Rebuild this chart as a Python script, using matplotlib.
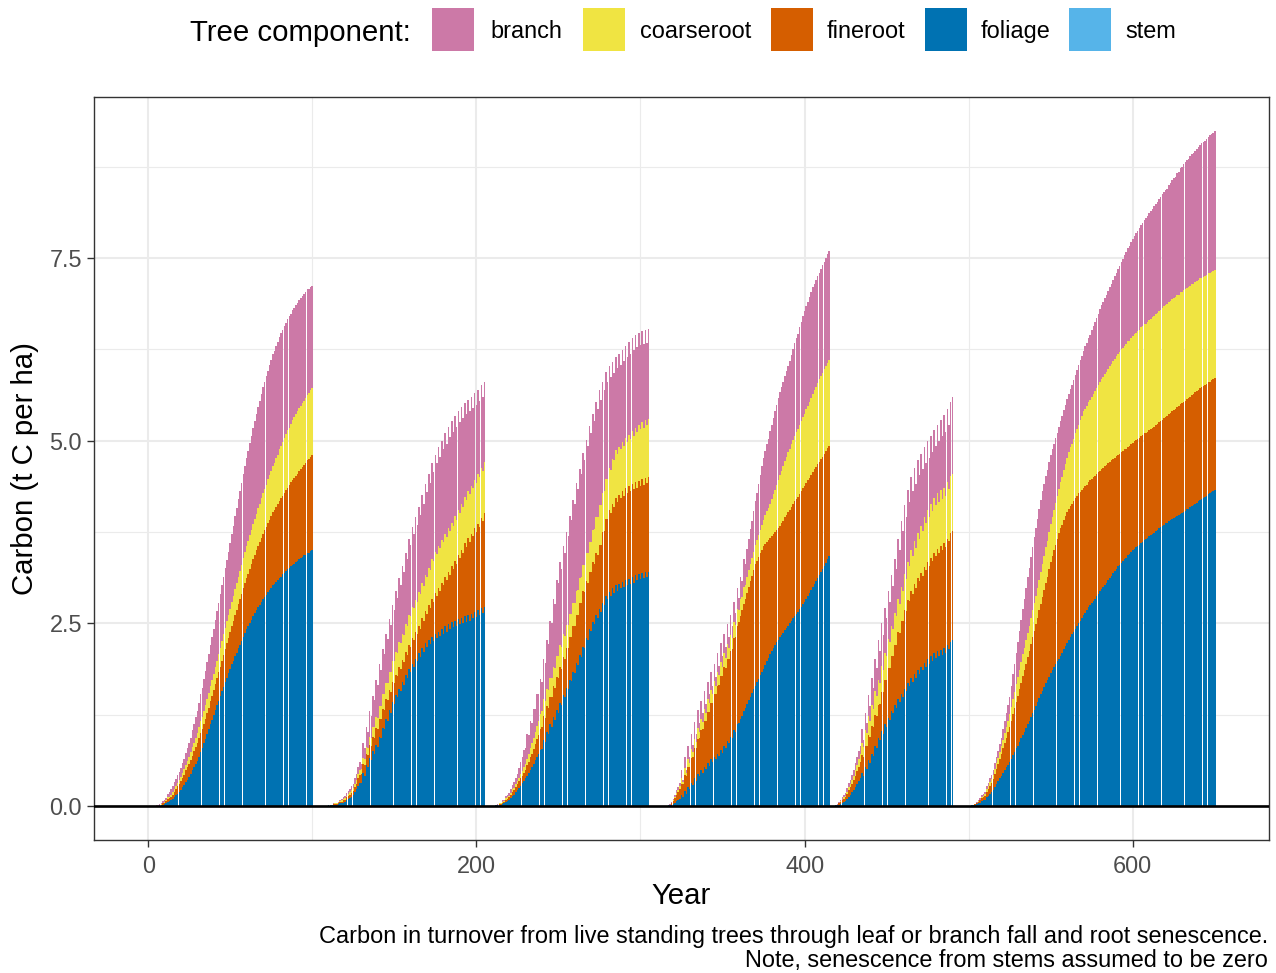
import numpy as np
import matplotlib
matplotlib.use("Agg")
import matplotlib.pyplot as plt
from matplotlib.patches import Rectangle
from matplotlib.ticker import MultipleLocator, FormatStrFormatter

plt.rcParams["font.family"] = ["Liberation Sans", "DejaVu Sans"]

# ---------------------------------------------------------------------------
# Annual litter carbon (t C per ha) from live trees, by component, per rotation
# ---------------------------------------------------------------------------
components = ["branch", "coarseroot", "fineroot", "foliage", "stem"]
colours = ["#CC79A7", "#F0E442", "#D55E00", "#0072B2", "#56B4E9"]

# Rotation 1: years 5-100
r1_start = 5
r1_foliage = [0.00, 0.00, 0.01, 0.01, 0.02, 0.03, 0.04, 0.06, 0.07, 0.08,
              0.10, 0.12, 0.15, 0.17, 0.20, 0.22, 0.26, 0.29, 0.33, 0.36,
              0.40, 0.44, 0.49, 0.53, 0.58, 0.62, 0.68, 0.74, 0.80, 0.86,
              0.92, 0.99, 1.05, 1.12, 1.18, 1.25, 1.31, 1.38, 1.44, 1.51,
              1.57, 1.63, 1.70, 1.76, 1.82, 1.88, 1.94, 1.99, 2.05, 2.10,
              2.16, 2.21, 2.26, 2.32, 2.37, 2.42, 2.46, 2.51, 2.55, 2.60,
              2.64, 2.68, 2.72, 2.75, 2.79, 2.83, 2.86, 2.89, 2.93, 2.96,
              2.99, 3.02, 3.04, 3.07, 3.09, 3.12, 3.14, 3.17, 3.19, 3.22,
              3.24, 3.26, 3.28, 3.30, 3.32, 3.34, 3.36, 3.38, 3.39, 3.41,
              3.43, 3.44, 3.46, 3.47, 3.49, 3.50]
r1_fineroot = [0.00, 0.00, 0.01, 0.01, 0.02, 0.02, 0.03, 0.04, 0.04, 0.05,
               0.06, 0.07, 0.08, 0.10, 0.11, 0.12, 0.13, 0.14, 0.16, 0.17,
               0.18, 0.19, 0.20, 0.22, 0.23, 0.24, 0.25, 0.26, 0.26, 0.27,
               0.28, 0.29, 0.30, 0.32, 0.33, 0.34, 0.36, 0.37, 0.39, 0.40,
               0.42, 0.44, 0.45, 0.47, 0.48, 0.50, 0.52, 0.54, 0.56, 0.58,
               0.60, 0.62, 0.64, 0.66, 0.68, 0.70, 0.72, 0.74, 0.76, 0.78,
               0.80, 0.82, 0.84, 0.86, 0.88, 0.90, 0.92, 0.93, 0.95, 0.96,
               0.98, 1.00, 1.01, 1.03, 1.04, 1.06, 1.07, 1.08, 1.10, 1.11,
               1.12, 1.13, 1.15, 1.16, 1.17, 1.18, 1.19, 1.21, 1.22, 1.23,
               1.24, 1.25, 1.27, 1.28, 1.29, 1.30]
r1_coarseroot = [0.00, 0.00, 0.00, 0.01, 0.01, 0.01, 0.01, 0.02, 0.02, 0.03,
                 0.03, 0.04, 0.04, 0.05, 0.05, 0.06, 0.07, 0.08, 0.08, 0.09,
                 0.10, 0.11, 0.12, 0.12, 0.13, 0.14, 0.15, 0.16, 0.16, 0.17,
                 0.18, 0.19, 0.20, 0.20, 0.21, 0.22, 0.23, 0.24, 0.25, 0.26,
                 0.27, 0.28, 0.29, 0.30, 0.31, 0.32, 0.33, 0.34, 0.36, 0.37,
                 0.38, 0.39, 0.40, 0.42, 0.43, 0.44, 0.45, 0.46, 0.47, 0.48,
                 0.49, 0.50, 0.52, 0.53, 0.54, 0.55, 0.56, 0.58, 0.59, 0.61,
                 0.62, 0.64, 0.65, 0.67, 0.68, 0.70, 0.72, 0.73, 0.75, 0.76,
                 0.78, 0.79, 0.80, 0.82, 0.83, 0.84, 0.85, 0.86, 0.86, 0.87,
                 0.88, 0.89, 0.90, 0.90, 0.91, 0.92]
r1_branch = [0.01, 0.01, 0.01, 0.02, 0.02, 0.02, 0.03, 0.05, 0.06, 0.08,
             0.09, 0.10, 0.10, 0.11, 0.11, 0.12, 0.13, 0.14, 0.16, 0.17,
             0.18, 0.20, 0.23, 0.25, 0.28, 0.30, 0.33, 0.37, 0.40, 0.44,
             0.47, 0.50, 0.53, 0.56, 0.59, 0.62, 0.65, 0.68, 0.70, 0.73,
             0.76, 0.79, 0.82, 0.84, 0.87, 0.90, 0.93, 0.96, 1.00, 1.03,
             1.06, 1.09, 1.12, 1.14, 1.17, 1.20, 1.23, 1.26, 1.28, 1.31,
             1.34, 1.36, 1.38, 1.41, 1.43, 1.45, 1.46, 1.48, 1.49, 1.51,
             1.52, 1.52, 1.53, 1.53, 1.54, 1.54, 1.54, 1.53, 1.53, 1.52,
             1.52, 1.52, 1.51, 1.51, 1.50, 1.50, 1.49, 1.48, 1.48, 1.47,
             1.46, 1.45, 1.44, 1.42, 1.41, 1.40]

# Rotation 2: years 110-205
r2_start = 110
r2_foliage = [0.01, 0.01, 0.01, 0.02, 0.02, 0.02, 0.03, 0.04, 0.04, 0.05,
              0.06, 0.08, 0.10, 0.11, 0.13, 0.15, 0.19, 0.23, 0.28, 0.32,
              0.32, 0.45, 0.42, 0.56, 0.53, 0.66, 0.63, 0.75, 0.72, 0.84,
              0.81, 0.95, 0.93, 1.07, 1.05, 1.19, 1.17, 1.31, 1.28, 1.42,
              1.40, 1.52, 1.49, 1.61, 1.58, 1.70, 1.66, 1.79, 1.75, 1.88,
              1.84, 1.95, 1.91, 2.02, 1.98, 2.09, 2.04, 2.16, 2.11, 2.23,
              2.18, 2.28, 2.22, 2.32, 2.26, 2.36, 2.30, 2.39, 2.33, 2.42,
              2.36, 2.46, 2.39, 2.49, 2.42, 2.52, 2.45, 2.54, 2.47, 2.56,
              2.49, 2.58, 2.51, 2.60, 2.52, 2.61, 2.54, 2.63, 2.57, 2.66,
              2.59, 2.68, 2.61, 2.71, 2.64, 2.73]
r2_fineroot = [0.00, 0.00, 0.00, 0.01, 0.01, 0.01, 0.01, 0.02, 0.02, 0.03,
               0.03, 0.04, 0.04, 0.05, 0.05, 0.06, 0.07, 0.08, 0.10, 0.11,
               0.12, 0.13, 0.14, 0.16, 0.17, 0.18, 0.19, 0.20, 0.22, 0.23,
               0.24, 0.25, 0.26, 0.26, 0.27, 0.28, 0.28, 0.28, 0.28, 0.28,
               0.28, 0.28, 0.29, 0.29, 0.30, 0.30, 0.31, 0.32, 0.32, 0.33,
               0.34, 0.35, 0.36, 0.36, 0.37, 0.38, 0.39, 0.41, 0.42, 0.44,
               0.45, 0.47, 0.49, 0.52, 0.54, 0.56, 0.58, 0.60, 0.62, 0.64,
               0.66, 0.68, 0.70, 0.72, 0.74, 0.76, 0.79, 0.82, 0.84, 0.87,
               0.90, 0.93, 0.96, 1.00, 1.03, 1.06, 1.08, 1.10, 1.12, 1.14,
               1.16, 1.18, 1.21, 1.23, 1.26, 1.28]
r2_coarseroot = [0.00, 0.00, 0.00, 0.00, 0.01, 0.01, 0.01, 0.01, 0.02, 0.02,
                 0.02, 0.02, 0.03, 0.03, 0.04, 0.04, 0.05, 0.05, 0.06, 0.06,
                 0.07, 0.08, 0.09, 0.09, 0.10, 0.11, 0.12, 0.13, 0.14, 0.15,
                 0.16, 0.17, 0.18, 0.20, 0.21, 0.22, 0.24, 0.25, 0.27, 0.28,
                 0.30, 0.31, 0.32, 0.34, 0.35, 0.36, 0.37, 0.38, 0.40, 0.41,
                 0.42, 0.43, 0.44, 0.44, 0.45, 0.46, 0.47, 0.48, 0.48, 0.49,
                 0.50, 0.51, 0.52, 0.54, 0.55, 0.56, 0.57, 0.57, 0.58, 0.58,
                 0.59, 0.59, 0.59, 0.60, 0.60, 0.60, 0.60, 0.61, 0.61, 0.62,
                 0.62, 0.62, 0.63, 0.63, 0.64, 0.64, 0.65, 0.65, 0.66, 0.66,
                 0.67, 0.68, 0.68, 0.69, 0.69, 0.70]
r2_branch = [0.00, 0.00, 0.00, 0.01, 0.01, 0.01, 0.01, 0.02, 0.02, 0.03,
             0.03, 0.04, 0.04, 0.05, 0.05, 0.06, 0.07, 0.08, 0.10, 0.11,
             0.07, 0.21, 0.14, 0.28, 0.21, 0.35, 0.29, 0.43, 0.37, 0.51,
             0.45, 0.57, 0.50, 0.62, 0.55, 0.67, 0.60, 0.72, 0.65, 0.77,
             0.70, 0.83, 0.75, 0.88, 0.80, 0.93, 0.86, 0.98, 0.91, 1.04,
             0.97, 1.09, 1.01, 1.13, 1.05, 1.17, 1.09, 1.21, 1.13, 1.25,
             1.17, 1.28, 1.19, 1.31, 1.22, 1.33, 1.24, 1.35, 1.25, 1.36,
             1.27, 1.37, 1.28, 1.38, 1.29, 1.39, 1.28, 1.37, 1.27, 1.36,
             1.25, 1.33, 1.21, 1.29, 1.17, 1.25, 1.13, 1.22, 1.10, 1.19,
             1.07, 1.16, 1.04, 1.13, 1.01, 1.10]

# Rotation 3: years 211-305
r3_start = 211
r3_foliage = [0.00, 0.01, 0.01, 0.02,
              0.02, 0.03, 0.04, 0.06, 0.07, 0.08, 0.11, 0.14, 0.16, 0.19,
              0.22, 0.25, 0.28, 0.32, 0.35, 0.38, 0.42, 0.46, 0.50, 0.54,
              0.58, 0.63, 0.68, 0.72, 0.77,
              0.78, 0.91, 0.88, 1.02, 0.99, 1.12, 1.09, 1.22, 1.18, 1.31,
              1.28, 1.41, 1.38, 1.52, 1.49, 1.62, 1.60, 1.73, 1.71, 1.84,
              1.82, 1.96, 1.93, 2.07, 2.04, 2.18, 2.16, 2.30, 2.28, 2.42,
              2.40, 2.52, 2.49, 2.61, 2.58, 2.70, 2.66, 2.78, 2.75, 2.87,
              2.83, 2.93, 2.87, 2.98, 2.92, 3.02, 2.95, 3.04, 2.98, 3.07,
              3.00, 3.09, 3.02, 3.11, 3.04, 3.13, 3.06, 3.16, 3.09, 3.18,
              3.11, 3.19, 3.12, 3.20, 3.13, 3.21]
r3_fineroot = [0.00, 0.00, 0.01, 0.01,
               0.01, 0.02, 0.02, 0.03, 0.03, 0.04, 0.05, 0.06, 0.06, 0.07,
               0.08, 0.09, 0.10, 0.10, 0.11, 0.12, 0.14, 0.15, 0.17, 0.18,
               0.20, 0.22, 0.24, 0.26, 0.28, 0.30, 0.32, 0.33, 0.35, 0.36,
               0.38, 0.40, 0.42, 0.44, 0.46, 0.48, 0.49, 0.50, 0.52, 0.53,
               0.54, 0.56, 0.58, 0.60, 0.62, 0.64, 0.66, 0.69, 0.71, 0.74,
               0.76, 0.77, 0.78, 0.78, 0.79, 0.80, 0.82, 0.83, 0.85, 0.86,
               0.88, 0.92, 0.97, 1.01, 1.06, 1.10, 1.12, 1.14, 1.16, 1.18,
               1.20, 1.21, 1.22, 1.23, 1.24, 1.25, 1.26, 1.26, 1.27, 1.27,
               1.28, 1.28, 1.28, 1.27, 1.27, 1.27, 1.28, 1.28, 1.29, 1.29,
               1.30]
r3_coarseroot = [0.00, 0.00, 0.00, 0.01,
                 0.01, 0.01, 0.01, 0.02, 0.02, 0.02, 0.02, 0.03, 0.03, 0.04,
                 0.04, 0.05, 0.06, 0.06, 0.07, 0.08, 0.09, 0.11, 0.12, 0.14,
                 0.15, 0.16, 0.18, 0.19, 0.21, 0.22, 0.23, 0.23, 0.24, 0.24,
                 0.25, 0.26, 0.27, 0.27, 0.28, 0.29, 0.30, 0.30, 0.31, 0.31,
                 0.32, 0.32, 0.32, 0.32, 0.32, 0.32, 0.33, 0.34, 0.34, 0.35,
                 0.36, 0.37, 0.38, 0.40, 0.41, 0.42, 0.44, 0.47, 0.49, 0.52,
                 0.54, 0.54, 0.54, 0.55, 0.55, 0.55, 0.57, 0.59, 0.61, 0.63,
                 0.65, 0.66, 0.66, 0.67, 0.67, 0.68, 0.69, 0.70, 0.70, 0.71,
                 0.72, 0.73, 0.74, 0.76, 0.77, 0.78, 0.78, 0.78, 0.79, 0.79,
                 0.79]
r3_branch = [0.00, 0.00, 0.01, 0.01,
             0.01, 0.02, 0.02, 0.03, 0.03, 0.04, 0.05, 0.06, 0.08, 0.09,
             0.10, 0.13, 0.17, 0.20, 0.24,
             0.22, 0.34, 0.25, 0.37, 0.28, 0.40, 0.32, 0.44, 0.36, 0.48,
             0.40, 0.56, 0.52, 0.67, 0.63, 0.79, 0.75, 0.92, 0.88, 1.05,
             1.01, 1.14, 1.07, 1.21, 1.14, 1.27, 1.21, 1.34, 1.28, 1.41,
             1.35, 1.47, 1.38, 1.50, 1.41, 1.53, 1.44, 1.55, 1.47, 1.58,
             1.49, 1.59, 1.48, 1.58, 1.47, 1.57, 1.44, 1.51, 1.39, 1.46,
             1.33, 1.40, 1.27, 1.33, 1.20, 1.27, 1.17, 1.27, 1.16, 1.26,
             1.16, 1.26, 1.16, 1.27, 1.17, 1.27, 1.17, 1.26, 1.16, 1.25,
             1.15, 1.25, 1.14, 1.24, 1.13, 1.23]

# Rotation 4: years 316-415
r4_start = 316
r4_foliage = [0.00, 0.01, 0.01, 0.02,
              0.03, 0.05, 0.07, 0.08, 0.10,
              0.15, 0.12, 0.21, 0.17, 0.26, 0.23, 0.32, 0.29, 0.38, 0.35,
              0.44, 0.41, 0.49, 0.46, 0.54, 0.51, 0.59, 0.55, 0.64, 0.60,
              0.68, 0.64, 0.72, 0.69, 0.77, 0.73, 0.82, 0.79, 0.89, 0.86,
              0.95, 0.93, 1.04, 1.02, 1.13,
              1.14, 1.19, 1.24, 1.30, 1.35, 1.40, 1.45, 1.50, 1.55, 1.60,
              1.65, 1.70, 1.74, 1.79, 1.83, 1.88, 1.93, 1.98, 2.03, 2.08,
              2.13, 2.17, 2.20, 2.24, 2.27, 2.31, 2.34, 2.37, 2.41, 2.44,
              2.47, 2.50, 2.53, 2.57, 2.60, 2.63, 2.66, 2.70, 2.73, 2.77,
              2.80, 2.84, 2.88, 2.92, 2.96, 3.00, 3.04, 3.08, 3.12, 3.16,
              3.20, 3.24, 3.29, 3.33, 3.38, 3.42]
r4_fineroot = [0.00, 0.00, 0.01, 0.02,
               0.04, 0.06, 0.09, 0.11, 0.14, 0.16, 0.19, 0.22, 0.25, 0.28,
               0.31, 0.34, 0.38, 0.41, 0.45, 0.48, 0.52, 0.55, 0.59, 0.62,
               0.66, 0.70, 0.74, 0.77, 0.81, 0.85, 0.89, 0.93, 0.97, 1.01,
               1.05, 1.08, 1.10, 1.13, 1.15, 1.18, 1.22, 1.26, 1.30, 1.34,
               1.38, 1.41, 1.44, 1.46, 1.49, 1.52, 1.55, 1.58, 1.60, 1.63,
               1.66, 1.66, 1.67, 1.67, 1.68, 1.68, 1.66, 1.64, 1.61, 1.59,
               1.57, 1.56, 1.55, 1.54, 1.53, 1.52, 1.53, 1.53, 1.54, 1.54,
               1.55, 1.55, 1.56, 1.56, 1.57, 1.57, 1.57, 1.57, 1.58, 1.58,
               1.58, 1.58, 1.58, 1.57, 1.57, 1.57, 1.57, 1.56, 1.56, 1.55,
               1.55, 1.54, 1.53, 1.53, 1.52, 1.51]
r4_coarseroot = [0.00, 0.00, 0.00, 0.01,
                 0.01, 0.02, 0.02, 0.03, 0.03,
                 0.07, 0.02, 0.09, 0.03, 0.10, 0.05, 0.12, 0.07, 0.13, 0.08,
                 0.15, 0.09, 0.16, 0.10, 0.17, 0.11, 0.17, 0.12, 0.18, 0.12,
                 0.18, 0.12, 0.19, 0.13, 0.19, 0.13, 0.19, 0.14, 0.20, 0.15,
                 0.21, 0.15, 0.22, 0.16, 0.23, 0.17, 0.23, 0.18, 0.24, 0.19,
                 0.22, 0.23, 0.24, 0.24, 0.25, 0.26, 0.28, 0.30, 0.32, 0.34,
                 0.36, 0.39, 0.42, 0.44, 0.47, 0.50, 0.54, 0.58, 0.62, 0.66,
                 0.70, 0.72, 0.75, 0.77, 0.80, 0.82, 0.84, 0.86, 0.88, 0.90,
                 0.92, 0.93, 0.95, 0.96, 0.98, 0.99, 1.01, 1.02, 1.04, 1.05,
                 1.07, 1.08, 1.10, 1.11, 1.13, 1.14, 1.15, 1.16, 1.16, 1.17,
                 1.18]
r4_branch = [0.00, 0.00, 0.01, 0.01,
             0.02, 0.03, 0.04, 0.04, 0.05,
             0.12, 0.03, 0.15, 0.05, 0.18, 0.08, 0.21, 0.10, 0.23, 0.11,
             0.24, 0.12, 0.24, 0.12, 0.24, 0.12, 0.24, 0.12, 0.24, 0.12,
             0.24, 0.12, 0.25, 0.13, 0.26, 0.14, 0.26, 0.15, 0.27, 0.16,
             0.28, 0.16, 0.28, 0.16, 0.28, 0.16, 0.31, 0.22, 0.38, 0.29,
             0.38, 0.42, 0.47, 0.51, 0.56, 0.60, 0.65, 0.70, 0.75, 0.80,
             0.85, 0.88, 0.92, 0.95, 0.99, 1.02, 1.04, 1.07, 1.09, 1.12,
             1.14, 1.15, 1.16, 1.16, 1.17, 1.18, 1.20, 1.22, 1.24, 1.26,
             1.28, 1.30, 1.33, 1.35, 1.38, 1.40, 1.41, 1.42, 1.44, 1.45,
             1.46, 1.46, 1.46, 1.46, 1.46, 1.46, 1.47, 1.47, 1.48, 1.48,
             1.49]

# Rotation 5: years 418-490
r5_start = 418
r5_foliage = [0.00, 0.01,
              0.01, 0.02, 0.03, 0.04, 0.06, 0.07, 0.10, 0.13, 0.16, 0.19,
              0.22, 0.26, 0.30, 0.34, 0.38,
              0.46, 0.42, 0.54, 0.51, 0.63, 0.59, 0.72, 0.69, 0.83, 0.80,
              0.93, 0.90, 1.03, 0.99, 1.12, 1.09, 1.21, 1.18, 1.30, 1.27,
              1.39, 1.35, 1.47, 1.42, 1.54, 1.50, 1.61, 1.57, 1.68, 1.64,
              1.75, 1.70, 1.81, 1.75, 1.86, 1.81, 1.91, 1.86, 1.96, 1.91,
              2.01, 1.95, 2.05, 1.99, 2.09, 2.03, 2.12, 2.05, 2.14, 2.07,
              2.16, 2.10, 2.20, 2.15, 2.25, 2.27]
r5_fineroot = [0.00, 0.00,
               0.01, 0.02, 0.03, 0.04, 0.04, 0.05, 0.07, 0.09, 0.10, 0.12,
               0.14, 0.16, 0.18, 0.20, 0.22, 0.24, 0.26, 0.29, 0.31, 0.34,
               0.36, 0.38, 0.40, 0.42, 0.44, 0.46, 0.50, 0.53, 0.57, 0.60,
               0.64, 0.68, 0.71, 0.75, 0.78, 0.82, 0.86, 0.91, 0.95, 1.00,
               1.04, 1.07, 1.10, 1.14, 1.17, 1.20, 1.21, 1.23, 1.24, 1.26,
               1.27, 1.28, 1.29, 1.31, 1.32, 1.33, 1.34, 1.35, 1.37, 1.38,
               1.39, 1.40, 1.41, 1.42, 1.43, 1.44, 1.45, 1.46, 1.48, 1.49,
               1.50]
r5_coarseroot = [0.00, 0.00,
                 0.00, 0.00, 0.01, 0.01, 0.02, 0.02, 0.03, 0.04, 0.04, 0.05,
                 0.06, 0.08, 0.09, 0.11, 0.12,
                 0.17, 0.13, 0.21, 0.18, 0.26, 0.22, 0.29, 0.24, 0.32, 0.27,
                 0.34, 0.29, 0.36, 0.31, 0.38, 0.33, 0.40, 0.35, 0.42, 0.37,
                 0.44, 0.39, 0.45, 0.40, 0.46, 0.41, 0.49, 0.44, 0.52, 0.47,
                 0.55, 0.51, 0.59, 0.54, 0.62, 0.58, 0.65, 0.61, 0.68, 0.64,
                 0.71, 0.66, 0.73, 0.68, 0.75, 0.70, 0.76, 0.70, 0.76, 0.70,
                 0.76, 0.70, 0.77, 0.71, 0.78, 0.78]
r5_branch = [0.00, 0.00,
             0.01, 0.02, 0.02, 0.03, 0.03, 0.04, 0.05, 0.06, 0.06, 0.07,
             0.08, 0.09, 0.10, 0.10, 0.11,
             0.18, 0.09, 0.24, 0.14, 0.29, 0.20, 0.36, 0.29, 0.45, 0.38,
             0.54, 0.44, 0.58, 0.47, 0.61, 0.51, 0.65, 0.55, 0.69, 0.59,
             0.73, 0.65, 0.82, 0.74, 0.90, 0.82, 0.95, 0.85, 0.98, 0.88,
             1.01, 0.89, 1.00, 0.88, 0.99, 0.87, 0.98, 0.85, 0.96, 0.83,
             0.94, 0.82, 0.94, 0.81, 0.93, 0.81, 0.94, 0.83, 0.97, 0.86,
             0.99, 0.87, 1.00, 0.88, 1.01, 1.05]

# Rotation 6: years 501-650
r6_start = 501
r6_foliage = [0.00, 0.01, 0.02, 0.02,
              0.03, 0.04, 0.05, 0.07, 0.08, 0.09, 0.12, 0.14, 0.17, 0.19,
              0.22, 0.26, 0.30, 0.34, 0.38, 0.42, 0.46, 0.50, 0.53, 0.57,
              0.61, 0.65, 0.70, 0.74, 0.79, 0.83, 0.88, 0.93, 0.98, 1.02,
              1.07, 1.12, 1.17, 1.22, 1.27, 1.32, 1.37, 1.42, 1.48, 1.53,
              1.58, 1.63, 1.68, 1.72, 1.77, 1.82, 1.86, 1.90, 1.94, 1.98,
              2.02, 2.06, 2.10, 2.15, 2.19, 2.23, 2.27, 2.31, 2.35, 2.39,
              2.43, 2.47, 2.51, 2.54, 2.58, 2.62, 2.65, 2.68, 2.72, 2.75,
              2.78, 2.81, 2.84, 2.88, 2.91, 2.94, 2.97, 3.00, 3.03, 3.06,
              3.09, 3.12, 3.15, 3.19, 3.22, 3.25, 3.28, 3.30, 3.33, 3.35,
              3.38, 3.40, 3.43, 3.45, 3.48, 3.50, 3.52, 3.54, 3.56, 3.58,
              3.60, 3.62, 3.64, 3.65, 3.67, 3.69, 3.71, 3.73, 3.74, 3.76,
              3.78, 3.80, 3.82, 3.83, 3.85, 3.87, 3.88, 3.90, 3.91, 3.93,
              3.94, 3.95, 3.97, 3.98, 4.00, 4.01, 4.03, 4.04, 4.06, 4.07,
              4.09, 4.11, 4.12, 4.14, 4.15, 4.17, 4.19, 4.20, 4.22, 4.23,
              4.25, 4.27, 4.28, 4.30, 4.31, 4.33]
r6_fineroot = [0.00, 0.00, 0.00, 0.01,
               0.01, 0.02, 0.03, 0.04, 0.04, 0.05, 0.07, 0.09, 0.11, 0.13,
               0.15, 0.18, 0.21, 0.24, 0.27, 0.30, 0.34, 0.37, 0.41, 0.44,
               0.48, 0.52, 0.56, 0.60, 0.64, 0.68, 0.72, 0.76, 0.80, 0.84,
               0.88, 0.92, 0.96, 1.00, 1.04, 1.08, 1.12, 1.16, 1.20, 1.24,
               1.28, 1.33, 1.38, 1.42, 1.47, 1.52, 1.56, 1.60, 1.64, 1.68,
               1.72, 1.74, 1.75, 1.77, 1.78, 1.80, 1.80, 1.80, 1.79, 1.79,
               1.79, 1.78, 1.77, 1.76, 1.75, 1.74, 1.73, 1.72, 1.72, 1.71,
               1.70, 1.69, 1.68, 1.67, 1.66, 1.65, 1.64, 1.63, 1.62, 1.61,
               1.60, 1.59, 1.58, 1.56, 1.55, 1.54, 1.53, 1.52, 1.52, 1.51,
               1.50, 1.49, 1.49, 1.48, 1.48, 1.47, 1.47, 1.47, 1.46, 1.46,
               1.46, 1.46, 1.46, 1.45, 1.45, 1.45, 1.45, 1.45, 1.45, 1.45,
               1.45, 1.45, 1.45, 1.46, 1.46, 1.46, 1.46, 1.47, 1.47, 1.48,
               1.48, 1.48, 1.49, 1.49, 1.50, 1.50, 1.50, 1.51, 1.51, 1.51,
               1.51, 1.51, 1.52, 1.52, 1.53, 1.53, 1.53, 1.53, 1.53, 1.53,
               1.53, 1.53, 1.53, 1.53, 1.53, 1.53]
r6_coarseroot = [0.00, 0.00, 0.00, 0.00,
                 0.01, 0.01, 0.01, 0.02, 0.02, 0.03, 0.04, 0.04, 0.05, 0.05,
                 0.06, 0.07, 0.08, 0.08, 0.09, 0.10, 0.11, 0.13, 0.14, 0.16,
                 0.17, 0.19, 0.21, 0.22, 0.24, 0.26, 0.27, 0.28, 0.30, 0.31,
                 0.32, 0.33, 0.34, 0.36, 0.37, 0.38, 0.39, 0.41, 0.42, 0.44,
                 0.45, 0.46, 0.48, 0.49, 0.51, 0.52, 0.54, 0.55, 0.57, 0.58,
                 0.60, 0.63, 0.66, 0.68, 0.71, 0.74, 0.77, 0.80, 0.82, 0.85,
                 0.88, 0.91, 0.94, 0.98, 1.01, 1.04, 1.06, 1.07, 1.09, 1.10,
                 1.12, 1.14, 1.16, 1.17, 1.19, 1.21, 1.23, 1.24, 1.26, 1.27,
                 1.29, 1.31, 1.32, 1.34, 1.35, 1.37, 1.38, 1.39, 1.40, 1.41,
                 1.42, 1.43, 1.44, 1.44, 1.45, 1.46, 1.47, 1.47, 1.48, 1.48,
                 1.49, 1.49, 1.50, 1.50, 1.51, 1.51, 1.51, 1.51, 1.52, 1.52,
                 1.52, 1.52, 1.52, 1.53, 1.53, 1.53, 1.53, 1.53, 1.53, 1.53,
                 1.53, 1.53, 1.53, 1.53, 1.53, 1.53, 1.53, 1.53, 1.52, 1.52,
                 1.52, 1.52, 1.51, 1.51, 1.50, 1.50, 1.50, 1.50, 1.49, 1.49,
                 1.49, 1.49, 1.49, 1.48, 1.48, 1.48]
r6_branch = [0.00, 0.00, 0.00, 0.00,
             0.01, 0.01, 0.02, 0.02, 0.03, 0.03, 0.04, 0.05, 0.06, 0.06,
             0.07, 0.08, 0.09, 0.10, 0.11, 0.12, 0.14, 0.17, 0.19, 0.22,
             0.24, 0.29, 0.34, 0.38, 0.43, 0.48, 0.53, 0.58, 0.62, 0.67,
             0.72, 0.76, 0.79, 0.83, 0.86, 0.90, 0.92, 0.94, 0.96, 0.98,
             1.00, 0.99, 0.98, 0.97, 0.96, 0.95, 0.93, 0.91, 0.89, 0.87,
             0.85, 0.84, 0.83, 0.82, 0.81, 0.80, 0.80, 0.80, 0.80, 0.80,
             0.80, 0.81, 0.81, 0.82, 0.82, 0.83, 0.85, 0.86, 0.88, 0.89,
             0.91, 0.93, 0.95, 0.96, 0.98, 1.00, 1.01, 1.03, 1.04, 1.06,
             1.07, 1.08, 1.10, 1.11, 1.13, 1.14, 1.16, 1.18, 1.20, 1.22,
             1.24, 1.26, 1.28, 1.29, 1.31, 1.33, 1.34, 1.36, 1.37, 1.39,
             1.40, 1.41, 1.42, 1.44, 1.45, 1.46, 1.47, 1.48, 1.50, 1.51,
             1.52, 1.53, 1.54, 1.55, 1.56, 1.57, 1.58, 1.60, 1.61, 1.63,
             1.64, 1.65, 1.67, 1.68, 1.70, 1.71, 1.72, 1.73, 1.75, 1.76,
             1.77, 1.78, 1.79, 1.80, 1.81, 1.82, 1.83, 1.84, 1.84, 1.85,
             1.86, 1.87, 1.88, 1.88, 1.89, 1.90]

rotations = [
    (r1_start, r1_branch, r1_coarseroot, r1_fineroot, r1_foliage),
    (r2_start, r2_branch, r2_coarseroot, r2_fineroot, r2_foliage),
    (r3_start, r3_branch, r3_coarseroot, r3_fineroot, r3_foliage),
    (r4_start, r4_branch, r4_coarseroot, r4_fineroot, r4_foliage),
    (r5_start, r5_branch, r5_coarseroot, r5_fineroot, r5_foliage),
    (r6_start, r6_branch, r6_coarseroot, r6_fineroot, r6_foliage),
]

# Assemble one long table: year, then one column per component
years, cols = [], {c: [] for c in components}
for start, br, co, fi, fo in rotations:
    n = len(fo)
    assert len(br) == len(co) == len(fi) == n, (start, len(br), len(co), len(fi), n)
    years.extend(range(start, start + n))
    cols["branch"].extend(br)
    cols["coarseroot"].extend(co)
    cols["fineroot"].extend(fi)
    cols["foliage"].extend(fo)
    cols["stem"].extend([0.0] * n)  # stems contribute no turnover
years = np.array(years)
vals = {c: np.array(v) for c, v in cols.items()}

# ---------------------------------------------------------------------------
# Figure
# ---------------------------------------------------------------------------
W, H = 1276, 973
fig = plt.figure(figsize=(W / 100, H / 100), dpi=100)


def fx(px):
    return px / W


def fy(py):
    return 1 - py / H


ax = fig.add_axes([fx(94), fy(840), fx(1269) - fx(94), fy(97) - fy(840)])

# stack from the bottom: stem, foliage, fineroot, coarseroot, branch
bottom = np.zeros(len(years))
for comp, col in zip(components[::-1], colours[::-1]):
    ax.bar(years, vals[comp], bottom=bottom, width=0.93, color=col,
           linewidth=0, zorder=2)
    bottom = bottom + vals[comp]

ax.axhline(0, color="black", lw=1.9, zorder=3)

total = bottom
ypad = 0.05 * total.max()
ax.set_ylim(-ypad, total.max() + ypad)
x_lo, x_hi = years.min() - 0.45, years.max() + 0.45
x_lo = min(x_lo, -0.45)
xpad = 0.05 * (x_hi - x_lo)
ax.set_xlim(x_lo - xpad, x_hi + xpad)

ax.xaxis.set_major_locator(MultipleLocator(200))
ax.xaxis.set_minor_locator(MultipleLocator(100))
ax.yaxis.set_major_locator(MultipleLocator(2.5))
ax.yaxis.set_minor_locator(MultipleLocator(1.25))
ax.yaxis.set_major_formatter(FormatStrFormatter("%.1f"))

ax.grid(which="major", color="#EBEBEB", lw=1.5, zorder=0)
ax.grid(which="minor", color="#EBEBEB", lw=0.8, zorder=0)
ax.set_axisbelow(True)

for s in ax.spines.values():
    s.set_color("#333333")
    s.set_linewidth(1.0)

ax.tick_params(which="major", length=5.2, width=1.0, color="#333333",
               labelsize=16.9, labelcolor="#4D4D4D")
ax.tick_params(axis="x", pad=5.5)
ax.tick_params(axis="y", pad=3.5)
ax.tick_params(which="minor", length=0)

# axis titles
fig.text(fx(681.5), fy(896), "Year", fontsize=21.2, ha="center", va="center")
fig.text(fx(25), fy(468.5), "Carbon (t C per ha)", fontsize=21.2,
         rotation=90, ha="center", va="center")

# caption
fig.text(fx(1268), fy(937), "Carbon in turnover from live standing trees "
         "through leaf or branch fall and root senescence.",
         fontsize=16.9, ha="right", va="center")
fig.text(fx(1268), fy(961), "Note, senescence from stems assumed to be zero",
         fontsize=16.9, ha="right", va="center")

# legend across the top
fig.text(fx(190), fy(41), "Tree component:", fontsize=21.2,
         ha="left", va="baseline")
key_x = [432, 583, 771, 925, 1069]
label_x = [490, 640, 827, 981, 1125]
for comp, col, kx, lx in zip(components, colours, key_x, label_x):
    fig.add_artist(Rectangle((fx(kx), fy(51)), fx(42), fy(8) - fy(51),
                             transform=fig.transFigure, facecolor=col,
                             edgecolor="none"))
    fig.text(fx(lx), fy(38), comp, fontsize=16.9, ha="left", va="baseline")

fig.savefig("out.png", dpi=100)
